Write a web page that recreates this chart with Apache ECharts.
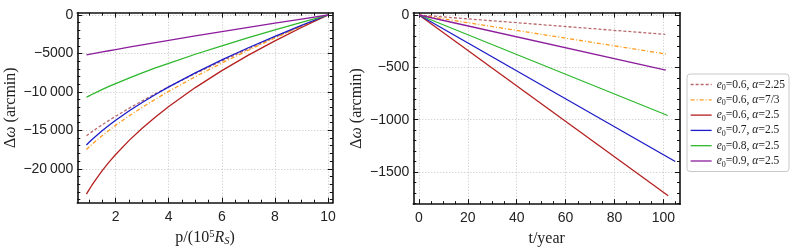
<!DOCTYPE html>
<html><head><meta charset="utf-8">
<script src="https://cdn.jsdelivr.net/npm/echarts@6/dist/echarts.min.js"></script>
<style>html,body{margin:0;padding:0;background:#fff}#c{width:797px;height:252px}</style>
</head><body><div id="c"></div>
<script>
// ---- data ----
const seriesNames = ['e0=0.6, α=2.25','e0=0.6, α=7/3','e0=0.6, α=2.5','e0=0.7, α=2.5','e0=0.8, α=2.5','e0=0.9, α=2.5'];
const legendE0 = ['0.6','0.6','0.6','0.7','0.8','0.9'];
const legendAlpha = ['2.25','7/3','2.5','2.5','2.5','2.5'];

const pValues = [0.9,1,1.1,1.25,1.5,1.75,2,2.5,3,3.5,4,5,6,7,8,9,10];
const dwP_e06_a225 = [-15700,-15450,-15200,-14840,-14260,-13705,-13170,-12145,-11170,-10235,-9340,-7615,-5980,-4410,-2895,-1425,0];
const dwP_e06_a73  = [-17500,-17170,-16855,-16400,-15680,-15000,-14350,-13140,-12010,-10945,-9930,-8025,-6250,-4580,-2990,-1465,0];
const dwP_e06_a25  = [-23300,-22720,-22175,-21400,-20220,-19140,-18150,-16340,-14730,-13255,-11900,-9440,-7230,-5220,-3360,-1625,0];
const dwP_e07_a25  = [-16900,-16560,-16235,-15770,-15030,-14345,-13700,-12490,-11380,-10335,-9350,-7530,-5840,-4260,-2770,-1355,0];
const dwP_e08_a25  = [-10700,-10520,-10340,-10090,-9680,-9290,-8920,-8205,-7530,-6890,-6280,-5105,-4000,-2940,-1930,-950,0];
const dwP_e09_a25  = [-5200,-5130,-5065,-4970,-4810,-4650,-4490,-4185,-3885,-3590,-3300,-2725,-2165,-1610,-1070,-530,0];

const tStart = 0;
const dwStart = 0;
const tEnd  = [100.8, 101.8, 102, 104.9, 101.8, 101];
const dwEnd = [-185, -375, -1726, -1399, -960, -527];

const pMajorTicks = [2,4,6,8,10];
const pMinorTicks = [1,1.5,2.5,3,3.5,4.5,5,5.5,6.5,7,7.5,8.5,9,9.5];
const dwLeftMajorTicks = [-20000,-15000,-10000,-5000,0];
const dwLeftMinorTicks = [-24000,-23000,-22000,-21000,-19000,-18000,-17000,-16000,-14000,-13000,-12000,-11000,-9000,-8000,-7000,-6000,-4000,-3000,-2000,-1000];
const tMajorTicks = [0,20,40,60,80,100];
const tMinorTicks = [5,10,15,25,30,35,45,50,55,65,70,75,85,90,95,105];
const dwRightMajorTicks = [-1500,-1000,-500,0];
const dwRightMinorTicks = [-1800,-1700,-1600,-1400,-1300,-1200,-1100,-900,-800,-700,-600,-400,-300,-200,-100];

// ---- styling ----
const colors = ['#b86a6c','#ff9d1f','#b51f1f','#1c1cc8','#2eb82e','#8c1c9c'];
const dashes = [[3,2],[4,2,1,2],'solid','solid','solid','solid'];
const SERIF = '"Liberation Serif", "DejaVu Serif", serif';
const SANS = '"Liberation Sans", Arial, sans-serif';

function fmt(v){
  if (v === 0) return '0';
  const a = Math.abs(v);
  let s = a >= 10000 ? Math.floor(a/1000) + '\u2009' + String(a%1000).padStart(3,'0') : String(a);
  return (v < 0 ? '\u2212' : '') + s;
}

const nameRich = {
  it: {fontStyle:'italic', fontFamily:SERIF, fontSize:16, lineHeight:18, color:'#222'},
  sup: {fontFamily:SERIF, fontSize:10.5, lineHeight:12, verticalAlign:'top', color:'#222'},
  subi: {fontFamily:SERIF, fontStyle:'italic', fontSize:10.5, lineHeight:11, verticalAlign:'bottom', color:'#222'}
};

function axisGroup(dim, gridIndex, min, max, majors, minors, name, nameGap){
  const pos = dim === 'x' ? ['bottom','top','bottom','top'] : ['left','right','left','right'];
  const out = [];
  for (let k = 0; k < 4; k++){
    const isMain = k === 0;
    const isMajor = k < 2;
    const ax = {
      type:'value', gridIndex, min, max, position: pos[k],
      axisLine: {show: isMajor, onZero:false, lineStyle:{color:'#111', width:1.6}},
      axisTick: {show:true, inside:true, length: isMajor ? 5 : 3, customValues: isMajor ? majors : minors,
                 lineStyle:{color:'#111', width:1}},
      axisLabel: {show: isMain, customValues: majors, formatter: fmt, fontFamily:SANS, fontSize:14, color:'#222',
                  margin: dim === 'x' ? 7 : 4},
      splitLine: {show: isMain, lineStyle:{color:'#c4c4c4', width:1, type:[1,2]}},
      minorTick:{show:false}, minorSplitLine:{show:false},
      silent:true
    };
    if (isMain){
      ax.name = name;
      ax.nameLocation = 'middle';
      ax.nameGap = nameGap;
      if (dim === 'y') ax.nameRotate = 90;
      ax.nameTextStyle = {fontFamily:SERIF, fontSize:16, lineHeight:18, color:'#222', rich:nameRich};
    }
    out.push(ax);
  }
  return out;
}

const xAxes = [].concat(
  axisGroup('x', 0, 0.555, 10.18, pMajorTicks, pMinorTicks, 'p/(10{sup|5}{it|R}{subi|S})', 21),
  axisGroup('x', 1, -2.33, 106.83, tMajorTicks, tMinorTicks, 't/year', 21)
);
const yAxes = [].concat(
  axisGroup('y', 0, -24415, 300, dwLeftMajorTicks, dwLeftMinorTicks, 'Δ{it|ω} (arcmin)', 53),
  axisGroup('y', 1, -1807, 22, dwRightMajorTicks, dwRightMinorTicks, 'Δ{it|ω} (arcmin)', 43)
);

const leftData = [dwP_e06_a225, dwP_e06_a73, dwP_e06_a25, dwP_e07_a25, dwP_e08_a25, dwP_e09_a25];
const series = [];
seriesNames.forEach((nm, i) => {
  series.push({
    name: nm, type:'line', xAxisIndex:0, yAxisIndex:0, symbol:'none', smooth:false,
    data: pValues.map((p, j) => [p, leftData[i][j]]),
    lineStyle:{color:colors[i], width:1.3, type:dashes[i], join:'round'}, itemStyle:{color:colors[i]},
    silent:true, animation:false
  });
});
seriesNames.forEach((nm, i) => {
  series.push({
    name: nm, type:'line', xAxisIndex:4, yAxisIndex:4, symbol:'none',
    data: [[tStart, dwStart],[tEnd[i], dwEnd[i]]],
    lineStyle:{color:colors[i], width:1.3, type:dashes[i]}, itemStyle:{color:colors[i]},
    silent:true, animation:false
  });
});

const chart = echarts.init(document.getElementById('c'), null, {renderer:'canvas'});
chart.setOption({
  animation:false,
  backgroundColor:'#fff',
  grid:[
    {left:77.3, top:12.7, width:255.5, height:190, containLabel:false, outerBoundsMode:'none'},
    {left:413.3, top:12.7, width:266.7, height:191.5, containLabel:false, outerBoundsMode:'none'}
  ],
  xAxis: xAxes,
  yAxis: yAxes,
  legend:{
    data: seriesNames, orient:'vertical', left:687, top:74,
    itemWidth:21, itemHeight:10, itemGap:0.3,
    padding:[3,4,3,3],
    backgroundColor:'#fff', borderColor:'#c8c8c8', borderWidth:1, borderRadius:3,
    selectedMode:false,
    itemStyle:{opacity:0, borderWidth:0},
    lineStyle:{width:1.3},
    formatter: name => {
      const i = seriesNames.indexOf(name);
      return '{i|e}{s|0}{t|=' + legendE0[i] + ', }{i|α}{t|=' + legendAlpha[i] + '}';
    },
    textStyle:{
      fontFamily:SERIF, fontSize:11.5, color:'#222', lineHeight:15,
      rich:{
        i:{fontFamily:SERIF, fontStyle:'italic', fontSize:11.5, lineHeight:15, color:'#222'},
        t:{fontFamily:SERIF, fontSize:11.5, lineHeight:15, color:'#222'},
        s:{fontFamily:SERIF, fontSize:8, lineHeight:7, verticalAlign:'bottom', color:'#222'}
      }
    }
  },
  series
});
</script>
</body></html>
